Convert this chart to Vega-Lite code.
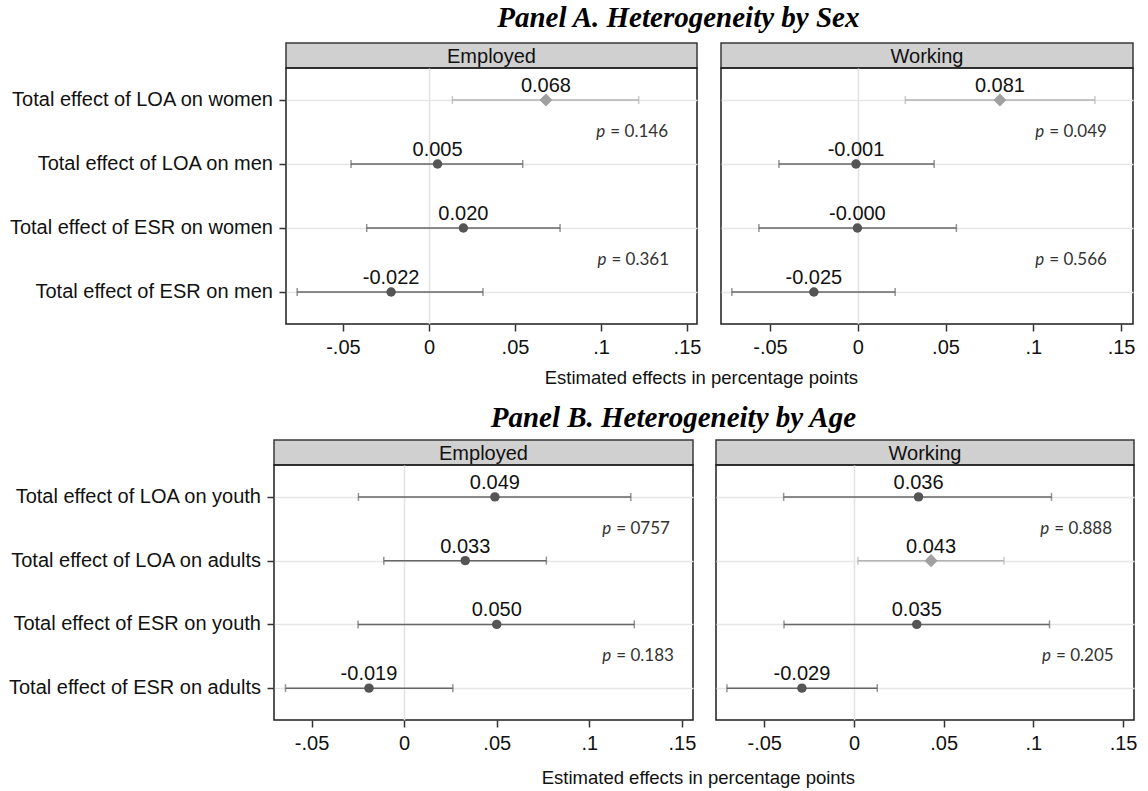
{
  "$schema": "https://vega.github.io/schema/vega-lite/v6.json",
  "background": "white",
  "padding": {"left": 5, "top": 4, "right": 0, "bottom": 0},
  "config": {"view": {"stroke": null}, "font": "Liberation Sans"},
  "datasets": {
    "est": [
      {"panel": "A", "outcome": "Employed", "row": "Total effect of LOA on women", "est": 0.068, "lo": 0.0136, "hi": 0.1219, "lab": "0.068", "grp": "light"},
      {"panel": "A", "outcome": "Employed", "row": "Total effect of LOA on men", "est": 0.005, "lo": -0.0453, "hi": 0.0545, "lab": "0.005", "grp": "dark"},
      {"panel": "A", "outcome": "Employed", "row": "Total effect of ESR on women", "est": 0.020, "lo": -0.0362, "hi": 0.0762, "lab": "0.020", "grp": "dark"},
      {"panel": "A", "outcome": "Employed", "row": "Total effect of ESR on men", "est": -0.022, "lo": -0.0766, "hi": 0.0314, "lab": "-0.022", "grp": "dark"},
      {"panel": "A", "outcome": "Working", "row": "Total effect of LOA on women", "est": 0.081, "lo": 0.0271, "hi": 0.1351, "lab": "0.081", "grp": "light"},
      {"panel": "A", "outcome": "Working", "row": "Total effect of LOA on men", "est": -0.001, "lo": -0.0449, "hi": 0.0435, "lab": "-0.001", "grp": "dark"},
      {"panel": "A", "outcome": "Working", "row": "Total effect of ESR on women", "est": -0.0002, "lo": -0.0563, "hi": 0.0562, "lab": "-0.000", "grp": "dark"},
      {"panel": "A", "outcome": "Working", "row": "Total effect of ESR on men", "est": -0.025, "lo": -0.0717, "hi": 0.0213, "lab": "-0.025", "grp": "dark"},
      {"panel": "B", "outcome": "Employed", "row": "Total effect of LOA on youth", "est": 0.049, "lo": -0.0247, "hi": 0.1224, "lab": "0.049", "grp": "dark"},
      {"panel": "B", "outcome": "Employed", "row": "Total effect of LOA on adults", "est": 0.033, "lo": -0.0110, "hi": 0.0768, "lab": "0.033", "grp": "dark"},
      {"panel": "B", "outcome": "Employed", "row": "Total effect of ESR on youth", "est": 0.050, "lo": -0.0249, "hi": 0.1243, "lab": "0.050", "grp": "dark"},
      {"panel": "B", "outcome": "Employed", "row": "Total effect of ESR on adults", "est": -0.019, "lo": -0.0641, "hi": 0.0263, "lab": "-0.019", "grp": "dark"},
      {"panel": "B", "outcome": "Working", "row": "Total effect of LOA on youth", "est": 0.036, "lo": -0.0392, "hi": 0.1101, "lab": "0.036", "grp": "dark"},
      {"panel": "B", "outcome": "Working", "row": "Total effect of LOA on adults", "est": 0.043, "lo": 0.0022, "hi": 0.0836, "lab": "0.043", "grp": "light"},
      {"panel": "B", "outcome": "Working", "row": "Total effect of ESR on youth", "est": 0.035, "lo": -0.0390, "hi": 0.1090, "lab": "0.035", "grp": "dark"},
      {"panel": "B", "outcome": "Working", "row": "Total effect of ESR on adults", "est": -0.029, "lo": -0.0708, "hi": 0.0130, "lab": "-0.029", "grp": "dark"}
    ],
    "pv": [
      {"panel": "A", "outcome": "Employed", "row": "Total effect of LOA on women", "px": 0.0973, "p": "= 0.146"},
      {"panel": "A", "outcome": "Employed", "row": "Total effect of ESR on women", "px": 0.0979, "p": "= 0.361"},
      {"panel": "A", "outcome": "Working", "row": "Total effect of LOA on women", "px": 0.1011, "p": "= 0.049"},
      {"panel": "A", "outcome": "Working", "row": "Total effect of ESR on women", "px": 0.1011, "p": "= 0.566"},
      {"panel": "B", "outcome": "Employed", "row": "Total effect of LOA on youth", "px": 0.1070, "p": "= 0757"},
      {"panel": "B", "outcome": "Employed", "row": "Total effect of ESR on youth", "px": 0.1070, "p": "= 0.183"},
      {"panel": "B", "outcome": "Working", "row": "Total effect of LOA on youth", "px": 0.1039, "p": "= 0.888"},
      {"panel": "B", "outcome": "Working", "row": "Total effect of ESR on youth", "px": 0.1048, "p": "= 0.205"}
    ]
  },
  "columns": 1,
  "spacing": 16,
  "concat": [
    {
      "title": {"text": "Panel A. Heterogeneity by Sex", "font": "Liberation Serif", "fontSize": 29, "fontStyle": "italic", "fontWeight": "bold", "color": "#000", "anchor": "middle", "dx": 108, "offset": 9},
      "vconcat": [
        {
          "title": {"text": "Estimated effects in percentage points", "orient": "bottom", "anchor": "middle", "dx": 131, "offset": 11, "font": "Liberation Sans", "fontSize": 18.5, "fontWeight": "normal", "color": "#111"},
          "spacing": 4,
          "hconcat": [
            {
              "spacing": 0, "bounds": "flush",
              "vconcat": [
                {"width": 268, "height": 25, "mark": {"type": "text"}, "encoding": {"text": {"value": ""}}},
                {"width": 268, "height": 256,
                 "data": {"name": "est"},
                 "transform": [{"filter": "datum.panel == 'A' && datum.outcome == 'Employed'"}],
                 "mark": {"type": "text", "font": "Liberation Sans", "fontSize": 20, "color": "#111", "align": "right", "baseline": "middle"},
                 "encoding": {
                   "y": {"field": "row", "type": "nominal", "sort": ["Total effect of LOA on women", "Total effect of LOA on men", "Total effect of ESR on women", "Total effect of ESR on men"], "scale": {"type": "point", "padding": 0.5}, "axis": null},
                   "x": {"datum": 1, "type": "quantitative", "scale": {"domain": [0, 1]}, "axis": null},
                   "text": {"field": "row", "type": "nominal"}
                 }}
              ]
            },
            {
              "spacing": 0, "bounds": "flush",
              "vconcat": [
                {"width": 411, "height": 25, "view": {"fill": "#d0d0d0", "stroke": "#3a3a3a", "strokeWidth": 1.5},
                 "data": {"values": [{"outcome": "Employed"}]},
                 "mark": {"type": "text", "font": "Liberation Sans", "fontSize": 20, "color": "#111", "baseline": "middle", "dy": 1.5},
                 "encoding": {"text": {"field": "outcome", "type": "nominal"}}},
                {"width": 411, "height": 256, "view": {"stroke": "#1e1e1e", "strokeWidth": 1.5},
                 "data": {"name": "est"},
                 "transform": [{"filter": "datum.panel == 'A' && datum.outcome == 'Employed'"}],
                 "encoding": {
                   "y": {"field": "row", "type": "nominal", "sort": ["Total effect of LOA on women", "Total effect of LOA on men", "Total effect of ESR on women", "Total effect of ESR on men"], "scale": {"type": "point", "padding": 0.5},
                         "axis": {"title": null, "domain": false, "ticks": true, "tickSize": 7, "tickColor": "#333", "tickWidth": 1.5, "labels": false, "grid": true, "gridColor": "#e6e6e6", "gridWidth": 1.5}},
                   "x": {"field": "est", "type": "quantitative", "scale": {"domain": [-0.0831, 0.1558], "nice": false, "zero": false},
                         "axis": {"title": null, "values": [-0.05, 0, 0.05, 0.1, 0.15], "labelExpr": "datum.value == 0 ? '0' : (datum.value < 0 ? '-' : '') + substring(format(abs(datum.value), '~g'), 1)", "domain": false, "tickSize": 7, "tickColor": "#333", "tickWidth": 1.5, "labelFont": "Liberation Sans", "labelFontSize": 20, "labelColor": "#111", "labelPadding": 6, "grid": true, "gridColor": "#e2e2e2", "gridWidth": 1.5, "gridOpacity": {"condition": {"test": "datum.value === 0", "value": 1}, "value": 0}}}
                 },
                 "layer": [
                   {"mark": {"type": "rule", "strokeWidth": 1.5}, "encoding": {"x": {"field": "lo", "type": "quantitative"}, "x2": {"field": "hi"}, "color": {"field": "grp", "type": "nominal", "scale": {"domain": ["dark", "light"], "range": ["#666666", "#b4b4b4"]}, "legend": null}}},
                   {"mark": {"type": "tick", "thickness": 1.5, "size": 8}, "encoding": {"x": {"field": "lo", "type": "quantitative"}, "color": {"field": "grp", "type": "nominal", "legend": null}}},
                   {"mark": {"type": "tick", "thickness": 1.5, "size": 8}, "encoding": {"x": {"field": "hi", "type": "quantitative"}, "color": {"field": "grp", "type": "nominal", "legend": null}}},
                   {"mark": {"type": "point", "filled": true, "opacity": 1, "strokeWidth": 0}, "encoding": {"fill": {"field": "grp", "type": "nominal", "scale": {"domain": ["dark", "light"], "range": ["#555555", "#a0a0a0"]}, "legend": null}, "shape": {"field": "grp", "type": "nominal", "scale": {"domain": ["dark", "light"], "range": ["circle", "diamond"]}, "legend": null}, "size": {"field": "grp", "type": "ordinal", "scale": {"domain": ["dark", "light"], "range": [90, 170]}, "legend": null}}},
                   {"mark": {"type": "text", "font": "Liberation Sans", "fontSize": 20, "color": "#111", "baseline": "alphabetic", "dy": -8}, "encoding": {"text": {"field": "lab", "type": "nominal"}}},
                   {"data": {"name": "pv"}, "transform": [{"filter": "datum.panel == 'A' && datum.outcome == 'Employed'"}], "mark": {"type": "text", "font": "Lato", "fontSize": 17, "fontStyle": "italic", "align": "left", "baseline": "middle", "dy": 32, "color": "#333"}, "encoding": {"x": {"field": "px", "type": "quantitative"}, "text": {"value": "p"}}},
                   {"data": {"name": "pv"}, "transform": [{"filter": "datum.panel == 'A' && datum.outcome == 'Employed'"}], "mark": {"type": "text", "font": "Lato", "fontSize": 17, "align": "left", "baseline": "middle", "dy": 32, "dx": 14, "color": "#333"}, "encoding": {"x": {"field": "px", "type": "quantitative"}, "text": {"field": "p", "type": "nominal"}}}
                 ]}
              ]
            },
            {
              "spacing": 0, "bounds": "flush",
              "vconcat": [
                {"width": 412, "height": 25, "view": {"fill": "#d0d0d0", "stroke": "#3a3a3a", "strokeWidth": 1.5},
                 "data": {"values": [{"outcome": "Working"}]},
                 "mark": {"type": "text", "font": "Liberation Sans", "fontSize": 20, "color": "#111", "baseline": "middle", "dy": 1.5},
                 "encoding": {"text": {"field": "outcome", "type": "nominal"}}},
                {"width": 412, "height": 256, "view": {"stroke": "#1e1e1e", "strokeWidth": 1.5},
                 "data": {"name": "est"},
                 "transform": [{"filter": "datum.panel == 'A' && datum.outcome == 'Working'"}],
                 "encoding": {
                   "y": {"field": "row", "type": "nominal", "sort": ["Total effect of LOA on women", "Total effect of LOA on men", "Total effect of ESR on women", "Total effect of ESR on men"], "scale": {"type": "point", "padding": 0.5},
                         "axis": {"title": null, "domain": false, "ticks": true, "tickSize": 14, "tickOpacity": 0, "labels": false, "grid": true, "gridColor": "#e6e6e6", "gridWidth": 1.5}},
                   "x": {"field": "est", "type": "quantitative", "scale": {"domain": [-0.0779, 0.1568], "nice": false, "zero": false},
                         "axis": {"title": null, "values": [-0.05, 0, 0.05, 0.1, 0.15], "labelExpr": "datum.value == 0 ? '0' : (datum.value < 0 ? '-' : '') + substring(format(abs(datum.value), '~g'), 1)", "domain": false, "tickSize": 7, "tickColor": "#333", "tickWidth": 1.5, "labelFont": "Liberation Sans", "labelFontSize": 20, "labelColor": "#111", "labelPadding": 6, "grid": true, "gridColor": "#e2e2e2", "gridWidth": 1.5, "gridOpacity": {"condition": {"test": "datum.value === 0", "value": 1}, "value": 0}}}
                 },
                 "layer": [
                   {"mark": {"type": "rule", "strokeWidth": 1.5}, "encoding": {"x": {"field": "lo", "type": "quantitative"}, "x2": {"field": "hi"}, "color": {"field": "grp", "type": "nominal", "scale": {"domain": ["dark", "light"], "range": ["#666666", "#b4b4b4"]}, "legend": null}}},
                   {"mark": {"type": "tick", "thickness": 1.5, "size": 8}, "encoding": {"x": {"field": "lo", "type": "quantitative"}, "color": {"field": "grp", "type": "nominal", "legend": null}}},
                   {"mark": {"type": "tick", "thickness": 1.5, "size": 8}, "encoding": {"x": {"field": "hi", "type": "quantitative"}, "color": {"field": "grp", "type": "nominal", "legend": null}}},
                   {"mark": {"type": "point", "filled": true, "opacity": 1, "strokeWidth": 0}, "encoding": {"fill": {"field": "grp", "type": "nominal", "scale": {"domain": ["dark", "light"], "range": ["#555555", "#a0a0a0"]}, "legend": null}, "shape": {"field": "grp", "type": "nominal", "scale": {"domain": ["dark", "light"], "range": ["circle", "diamond"]}, "legend": null}, "size": {"field": "grp", "type": "ordinal", "scale": {"domain": ["dark", "light"], "range": [90, 170]}, "legend": null}}},
                   {"mark": {"type": "text", "font": "Liberation Sans", "fontSize": 20, "color": "#111", "baseline": "alphabetic", "dy": -8}, "encoding": {"text": {"field": "lab", "type": "nominal"}}},
                   {"data": {"name": "pv"}, "transform": [{"filter": "datum.panel == 'A' && datum.outcome == 'Working'"}], "mark": {"type": "text", "font": "Lato", "fontSize": 17, "fontStyle": "italic", "align": "left", "baseline": "middle", "dy": 32, "color": "#333"}, "encoding": {"x": {"field": "px", "type": "quantitative"}, "text": {"value": "p"}}},
                   {"data": {"name": "pv"}, "transform": [{"filter": "datum.panel == 'A' && datum.outcome == 'Working'"}], "mark": {"type": "text", "font": "Lato", "fontSize": 17, "align": "left", "baseline": "middle", "dy": 32, "dx": 14, "color": "#333"}, "encoding": {"x": {"field": "px", "type": "quantitative"}, "text": {"field": "p", "type": "nominal"}}}
                 ]}
              ]
            }
          ]
        }
      ]
    },
    {
      "title": {"text": "Panel B. Heterogeneity by Age", "font": "Liberation Serif", "fontSize": 29, "fontStyle": "italic", "fontWeight": "bold", "color": "#000", "anchor": "middle", "dx": 102, "offset": 6},
      "vconcat": [
        {
          "title": {"text": "Estimated effects in percentage points", "orient": "bottom", "anchor": "middle", "dx": 127, "offset": 15, "font": "Liberation Sans", "fontSize": 18.5, "fontWeight": "normal", "color": "#111"},
          "spacing": 4,
          "hconcat": [
            {
              "spacing": 0, "bounds": "flush",
              "vconcat": [
                {"width": 256, "height": 25, "mark": {"type": "text"}, "encoding": {"text": {"value": ""}}},
                {"width": 256, "height": 255,
                 "data": {"name": "est"},
                 "transform": [{"filter": "datum.panel == 'B' && datum.outcome == 'Employed'"}],
                 "mark": {"type": "text", "font": "Liberation Sans", "fontSize": 20, "color": "#111", "align": "right", "baseline": "middle"},
                 "encoding": {
                   "y": {"field": "row", "type": "nominal", "sort": ["Total effect of LOA on youth", "Total effect of LOA on adults", "Total effect of ESR on youth", "Total effect of ESR on adults"], "scale": {"type": "point", "padding": 0.5}, "axis": null},
                   "x": {"datum": 1, "type": "quantitative", "scale": {"domain": [0, 1]}, "axis": null},
                   "text": {"field": "row", "type": "nominal"}
                 }}
              ]
            },
            {
              "spacing": 0, "bounds": "flush",
              "vconcat": [
                {"width": 419, "height": 25, "view": {"fill": "#d0d0d0", "stroke": "#3a3a3a", "strokeWidth": 1.5},
                 "data": {"values": [{"outcome": "Employed"}]},
                 "mark": {"type": "text", "font": "Liberation Sans", "fontSize": 20, "color": "#111", "baseline": "middle", "dy": 1.5},
                 "encoding": {"text": {"field": "outcome", "type": "nominal"}}},
                {"width": 419, "height": 255, "view": {"stroke": "#1e1e1e", "strokeWidth": 1.5},
                 "data": {"name": "est"},
                 "transform": [{"filter": "datum.panel == 'B' && datum.outcome == 'Employed'"}],
                 "encoding": {
                   "y": {"field": "row", "type": "nominal", "sort": ["Total effect of LOA on youth", "Total effect of LOA on adults", "Total effect of ESR on youth", "Total effect of ESR on adults"], "scale": {"type": "point", "padding": 0.5},
                         "axis": {"title": null, "domain": false, "ticks": true, "tickSize": 7, "tickColor": "#333", "tickWidth": 1.5, "labels": false, "grid": true, "gridColor": "#e6e6e6", "gridWidth": 1.5}},
                   "x": {"field": "est", "type": "quantitative", "scale": {"domain": [-0.0703, 0.156], "nice": false, "zero": false},
                         "axis": {"title": null, "values": [-0.05, 0, 0.05, 0.1, 0.15], "labelExpr": "datum.value == 0 ? '0' : (datum.value < 0 ? '-' : '') + substring(format(abs(datum.value), '~g'), 1)", "domain": false, "tickSize": 7, "tickColor": "#333", "tickWidth": 1.5, "labelFont": "Liberation Sans", "labelFontSize": 20, "labelColor": "#111", "labelPadding": 6, "grid": true, "gridColor": "#e2e2e2", "gridWidth": 1.5, "gridOpacity": {"condition": {"test": "datum.value === 0", "value": 1}, "value": 0}}}
                 },
                 "layer": [
                   {"mark": {"type": "rule", "strokeWidth": 1.5}, "encoding": {"x": {"field": "lo", "type": "quantitative"}, "x2": {"field": "hi"}, "color": {"field": "grp", "type": "nominal", "scale": {"domain": ["dark", "light"], "range": ["#666666", "#b4b4b4"]}, "legend": null}}},
                   {"mark": {"type": "tick", "thickness": 1.5, "size": 8}, "encoding": {"x": {"field": "lo", "type": "quantitative"}, "color": {"field": "grp", "type": "nominal", "legend": null}}},
                   {"mark": {"type": "tick", "thickness": 1.5, "size": 8}, "encoding": {"x": {"field": "hi", "type": "quantitative"}, "color": {"field": "grp", "type": "nominal", "legend": null}}},
                   {"mark": {"type": "point", "filled": true, "opacity": 1, "strokeWidth": 0}, "encoding": {"fill": {"field": "grp", "type": "nominal", "scale": {"domain": ["dark", "light"], "range": ["#555555", "#a0a0a0"]}, "legend": null}, "shape": {"field": "grp", "type": "nominal", "scale": {"domain": ["dark", "light"], "range": ["circle", "diamond"]}, "legend": null}, "size": {"field": "grp", "type": "ordinal", "scale": {"domain": ["dark", "light"], "range": [90, 170]}, "legend": null}}},
                   {"mark": {"type": "text", "font": "Liberation Sans", "fontSize": 20, "color": "#111", "baseline": "alphabetic", "dy": -8}, "encoding": {"text": {"field": "lab", "type": "nominal"}}},
                   {"data": {"name": "pv"}, "transform": [{"filter": "datum.panel == 'B' && datum.outcome == 'Employed'"}], "mark": {"type": "text", "font": "Lato", "fontSize": 17, "fontStyle": "italic", "align": "left", "baseline": "middle", "dy": 32, "color": "#333"}, "encoding": {"x": {"field": "px", "type": "quantitative"}, "text": {"value": "p"}}},
                   {"data": {"name": "pv"}, "transform": [{"filter": "datum.panel == 'B' && datum.outcome == 'Employed'"}], "mark": {"type": "text", "font": "Lato", "fontSize": 17, "align": "left", "baseline": "middle", "dy": 32, "dx": 14, "color": "#333"}, "encoding": {"x": {"field": "px", "type": "quantitative"}, "text": {"field": "p", "type": "nominal"}}}
                 ]}
              ]
            },
            {
              "spacing": 0, "bounds": "flush",
              "vconcat": [
                {"width": 418, "height": 25, "view": {"fill": "#d0d0d0", "stroke": "#3a3a3a", "strokeWidth": 1.5},
                 "data": {"values": [{"outcome": "Working"}]},
                 "mark": {"type": "text", "font": "Liberation Sans", "fontSize": 20, "color": "#111", "baseline": "middle", "dy": 1.5},
                 "encoding": {"text": {"field": "outcome", "type": "nominal"}}},
                {"width": 418, "height": 255, "view": {"stroke": "#1e1e1e", "strokeWidth": 1.5},
                 "data": {"name": "est"},
                 "transform": [{"filter": "datum.panel == 'B' && datum.outcome == 'Working'"}],
                 "encoding": {
                   "y": {"field": "row", "type": "nominal", "sort": ["Total effect of LOA on youth", "Total effect of LOA on adults", "Total effect of ESR on youth", "Total effect of ESR on adults"], "scale": {"type": "point", "padding": 0.5},
                         "axis": {"title": null, "domain": false, "ticks": true, "tickSize": 14, "tickOpacity": 0, "labels": false, "grid": true, "gridColor": "#e6e6e6", "gridWidth": 1.5}},
                   "x": {"field": "est", "type": "quantitative", "scale": {"domain": [-0.0769, 0.1561], "nice": false, "zero": false},
                         "axis": {"title": null, "values": [-0.05, 0, 0.05, 0.1, 0.15], "labelExpr": "datum.value == 0 ? '0' : (datum.value < 0 ? '-' : '') + substring(format(abs(datum.value), '~g'), 1)", "domain": false, "tickSize": 7, "tickColor": "#333", "tickWidth": 1.5, "labelFont": "Liberation Sans", "labelFontSize": 20, "labelColor": "#111", "labelPadding": 6, "grid": true, "gridColor": "#e2e2e2", "gridWidth": 1.5, "gridOpacity": {"condition": {"test": "datum.value === 0", "value": 1}, "value": 0}}}
                 },
                 "layer": [
                   {"mark": {"type": "rule", "strokeWidth": 1.5}, "encoding": {"x": {"field": "lo", "type": "quantitative"}, "x2": {"field": "hi"}, "color": {"field": "grp", "type": "nominal", "scale": {"domain": ["dark", "light"], "range": ["#666666", "#b4b4b4"]}, "legend": null}}},
                   {"mark": {"type": "tick", "thickness": 1.5, "size": 8}, "encoding": {"x": {"field": "lo", "type": "quantitative"}, "color": {"field": "grp", "type": "nominal", "legend": null}}},
                   {"mark": {"type": "tick", "thickness": 1.5, "size": 8}, "encoding": {"x": {"field": "hi", "type": "quantitative"}, "color": {"field": "grp", "type": "nominal", "legend": null}}},
                   {"mark": {"type": "point", "filled": true, "opacity": 1, "strokeWidth": 0}, "encoding": {"fill": {"field": "grp", "type": "nominal", "scale": {"domain": ["dark", "light"], "range": ["#555555", "#a0a0a0"]}, "legend": null}, "shape": {"field": "grp", "type": "nominal", "scale": {"domain": ["dark", "light"], "range": ["circle", "diamond"]}, "legend": null}, "size": {"field": "grp", "type": "ordinal", "scale": {"domain": ["dark", "light"], "range": [90, 170]}, "legend": null}}},
                   {"mark": {"type": "text", "font": "Liberation Sans", "fontSize": 20, "color": "#111", "baseline": "alphabetic", "dy": -8}, "encoding": {"text": {"field": "lab", "type": "nominal"}}},
                   {"data": {"name": "pv"}, "transform": [{"filter": "datum.panel == 'B' && datum.outcome == 'Working'"}], "mark": {"type": "text", "font": "Lato", "fontSize": 17, "fontStyle": "italic", "align": "left", "baseline": "middle", "dy": 32, "color": "#333"}, "encoding": {"x": {"field": "px", "type": "quantitative"}, "text": {"value": "p"}}},
                   {"data": {"name": "pv"}, "transform": [{"filter": "datum.panel == 'B' && datum.outcome == 'Working'"}], "mark": {"type": "text", "font": "Lato", "fontSize": 17, "align": "left", "baseline": "middle", "dy": 32, "dx": 14, "color": "#333"}, "encoding": {"x": {"field": "px", "type": "quantitative"}, "text": {"field": "p", "type": "nominal"}}}
                 ]}
              ]
            }
          ]
        }
      ]
    }
  ]
}
